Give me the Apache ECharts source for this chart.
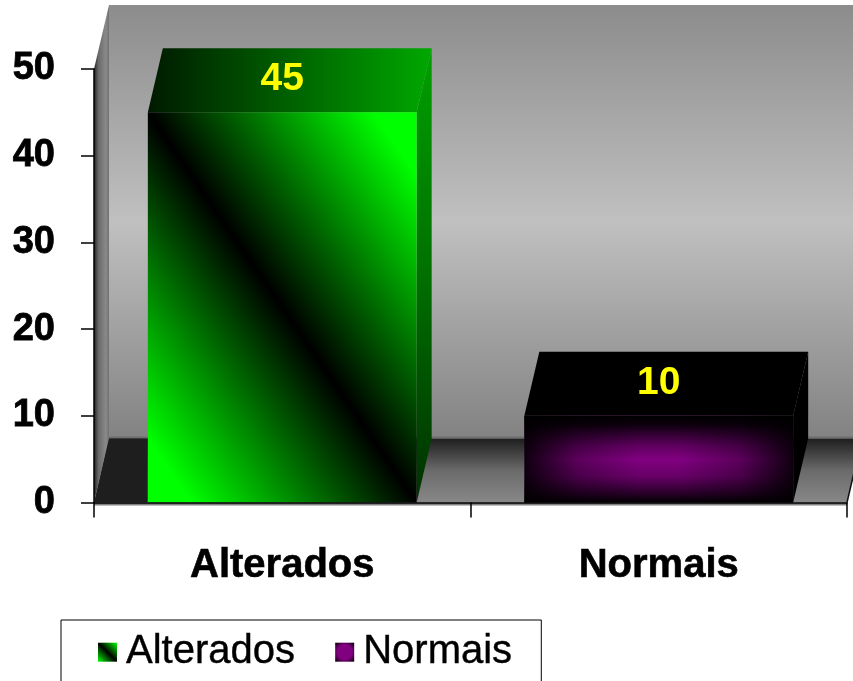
<!DOCTYPE html>
<html>
<head>
<meta charset="utf-8">
<style>html,body{margin:0;padding:0;background:#fff;overflow:hidden}#c{width:853px;height:681px}</style>
<script src="https://cdn.jsdelivr.net/npm/echarts@6/dist/echarts.min.js"></script>
</head>
<body>
<div id="c"></div>
<script>
// Values
const categories = ['Alterados', 'Normais'];
const counts = [45, 10];
const axisTicks = [0, 10, 20, 30, 40, 50];

// Pseudo-3D depth of the box, in pixels
const DEPTH_X = 15, DEPTH_Y = 64;
const BAR_RATIO = 0.714;
const FONT = '"Liberation Sans", Arial, sans-serif';

const lin = (x, y, x2, y2, stops, global) =>
  new echarts.graphic.LinearGradient(x, y, x2, y2,
    stops.map((c, i) => (Array.isArray(c) ? { offset: c[0], color: c[1] } : { offset: i / (stops.length - 1), color: c })), global);

const poly = (points, fill, extra) => ({
  type: 'polygon', shape: { points }, style: Object.assign({ fill }, extra || {})
});

// Back wall, side wall and floor of the chart box
function renderRoom(params, api) {
  const g = params.coordSys;
  const L = g.x, R = g.x + g.width, T = g.y, B = g.y + g.height;
  const dx = DEPTH_X, dy = DEPTH_Y;
  const firstBarLeft = api.coord([0, 0])[0] - api.size([1, 0])[0] * BAR_RATIO / 2;
  return {
    type: 'group',
    children: [
      poly([[L + dx, T - dy], [R + dx, T - dy], [R + dx, B - dy], [L + dx, B - dy]],
        lin(0, 0, 0, 1, ['#8c8c8c', '#c0c0c0', '#828282'])),
      { type: 'rect', shape: { x: L + dx, y: B - dy - 2, width: g.width + dx, height: 2 }, style: { fill: '#6e6e6e' } },
      poly([[L, T], [L + dx, T - dy], [L + dx, B - dy], [L, B]],
        lin(0, 0, 1, 0, [[0, '#222222'], [0.3, '#6a6a6a'], [0.8, '#8a8a8a'], [1, '#707070']])),
      poly([[L, B], [L + dx, B - dy], [R + dx, B - dy], [R, B]],
        lin(0, 0, 0, 1, ['#1e1e1e', '#6a6a6a', '#888888'])),
      poly([[L, B], [L + dx, B - dy], [firstBarLeft, B - dy], [firstBarLeft, B]], '#1e1e1e'),
      { type: 'line', shape: { x1: R, y1: B, x2: R + dx, y2: B - dy }, style: { stroke: '#111111', lineWidth: 1.5 } },
      { type: 'rect', shape: { x: L, y: B, width: g.width, height: 3 }, style: { fill: '#808080' } }
    ]
  };
}

// Diagonal fade on the front of the first bar: black along the diagonal, bright in two corners
function diagonalFill(x0, y0, x1, y1, color) {
  const w = x1 - x0, h = y1 - y0, len = Math.hypot(w, h);
  const nx = h / len, ny = -w / len, reach = (w * nx + (-h) * ny) / 2;
  const cx = (x0 + x1) / 2, cy = (y0 + y1) / 2;
  return lin(cx - nx * reach, cy - ny * reach, cx + nx * reach, cy + ny * reach,
    [[0, color], [0.08, color], [0.5, '#000000'], [0.92, color], [1, color]], true);
}

function boxParts(api, topFill, sideFill) {
  const xy = api.coord([api.value(0), api.value(1)]);
  const base = api.coord([api.value(0), 0]);
  const w = api.size([1, 0])[0] * BAR_RATIO;
  const x0 = xy[0] - w / 2, x1 = xy[0] + w / 2, yT = xy[1], yB = base[1];
  const dx = DEPTH_X, dy = DEPTH_Y;
  return {
    x0, x1, yT, yB,
    top: poly([[x0, yT], [x1, yT], [x1 + dx, yT - dy], [x0 + dx, yT - dy]], topFill(x0, x1)),
    side: poly([[x1, yT], [x1 + dx, yT - dy], [x1 + dx, yB - dy], [x1, yB]], sideFill),
    label: {
      type: 'text', z2: 5,
      style: {
        text: String(api.value(1)), x: xy[0], y: yT - 33,
        fill: '#ffff00', font: 'bold 39px ' + FONT, align: 'center', verticalAlign: 'middle'
      }
    }
  };
}

function renderGreen(params, api) {
  const b = boxParts(api,
    (x0, x1) => lin(x0, 0, x1 + DEPTH_X, 0, ['#001a00', '#00a800'], true),
    lin(0, 0, 0, 1, ['#00a000', '#007000', '#003000']));
  return {
    type: 'group',
    children: [b.side, b.top,
      poly([[b.x0, b.yT], [b.x1, b.yT], [b.x1, b.yB], [b.x0, b.yB]],
        diagonalFill(b.x0, b.yT, b.x1, b.yB, '#00ff00')),
      b.label]
  };
}

// Front of the second bar: purple at the centre, fading to black towards every edge
function renderPurple(params, api) {
  const b = boxParts(api, () => '#000000', '#000000');
  const rectShape = { x: b.x0, y: b.yT, width: b.x1 - b.x0, height: b.yB - b.yT };
  return {
    type: 'group',
    children: [b.side, b.top,
      { type: 'rect', shape: rectShape, style: {
        fill: lin(0, 0, 1, 0, [[0, '#100010'], [0.2, '#5c005c'], [0.42, '#800080'], [0.58, '#800080'], [0.8, '#5c005c'], [1, '#100010']]) } },
      { type: 'rect', shape: rectShape, style: {
        fill: lin(0, 0, 0, 1, [[0, 'rgba(0,0,0,1)'], [0.1, 'rgba(0,0,0,0.9)'], [0.35, 'rgba(0,0,0,0.25)'], [0.5, 'rgba(0,0,0,0)'], [0.7, 'rgba(0,0,0,0.2)'], [0.92, 'rgba(0,0,0,0.75)'], [1, 'rgba(0,0,0,1)']]) } },
      b.label]
  };
}

const greenSwatch = lin(1, 0, 0, 1, ['#00ff00', '#000000', '#00ff00']);
const purpleSwatch = new echarts.graphic.RadialGradient(0.5, 0.5, 0.7, [
  { offset: 0, color: '#800080' }, { offset: 0.55, color: '#800080' }, { offset: 1, color: '#000000' }
]);

const chart = echarts.init(document.getElementById('c'), null, { renderer: 'canvas' });
chart.setOption({
  animation: false,
  backgroundColor: '#ffffff',
  grid: { left: 94, top: 69, width: 753, height: 433.5 },
  xAxis: {
    type: 'category', data: categories, z: 10,
    axisLine: { lineStyle: { color: '#000', width: 1.5 } },
    axisTick: { show: true, alignWithLabel: false, length: 15, lineStyle: { color: '#000', width: 1.5 } },
    axisLabel: { color: '#000', fontFamily: FONT, fontWeight: 'bold', fontSize: 40, margin: 43, textBorderColor: '#000', textBorderWidth: 0.6 }
  },
  yAxis: {
    type: 'value', min: axisTicks[0], max: axisTicks[axisTicks.length - 1], interval: 10, z: 10,
    axisLine: { show: true, lineStyle: { color: '#000', width: 1.5 } },
    axisTick: { show: true, length: 13, lineStyle: { color: '#000', width: 1.5 } },
    splitLine: { show: false },
    axisLabel: { color: '#000', fontFamily: FONT, fontWeight: 'bold', fontSize: 38, margin: 39, textBorderColor: '#000', textBorderWidth: 0.8 }
  },
  legend: {
    left: 61, top: 620, orient: 'horizontal', selectedMode: false,
    borderColor: '#000', borderWidth: 1, borderRadius: 0,
    padding: [12, 29, 20, 37], itemWidth: 19, itemHeight: 19, itemGap: 40,
    textStyle: { color: '#000', fontFamily: FONT, fontSize: 40, padding: [11, 0, 0, 4], textBorderColor: '#000', textBorderWidth: 0.4 },
    data: [
      { name: categories[0], icon: 'rect', itemStyle: { color: greenSwatch } },
      { name: categories[1], icon: 'rect', itemStyle: { color: purpleSwatch } }
    ]
  },
  series: [
    { type: 'custom', name: 'room', silent: true, z: 1, renderItem: renderRoom, data: [[0, 0]], encode: { x: 0, y: 1 } },
    { type: 'custom', name: categories[0], z: 3, renderItem: renderGreen, data: [[0, counts[0]]], encode: { x: 0, y: 1 }, itemStyle: { color: greenSwatch } },
    { type: 'custom', name: categories[1], z: 3, renderItem: renderPurple, data: [[1, counts[1]]], encode: { x: 0, y: 1 }, itemStyle: { color: purpleSwatch } }
  ]
});
</script>
</body>
</html>
